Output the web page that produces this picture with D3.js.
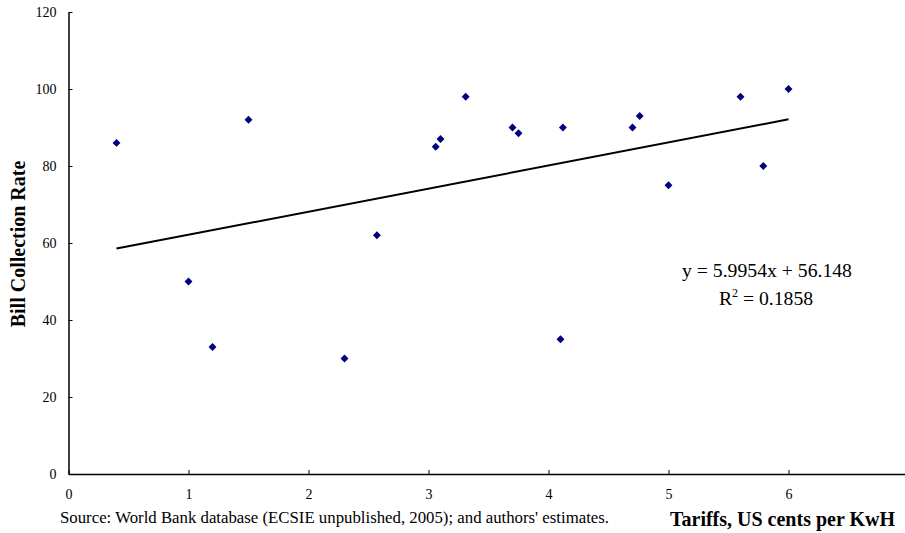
<!DOCTYPE html>
<html>
<head>
<meta charset="utf-8">
<script src="https://cdn.jsdelivr.net/npm/d3@7"></script>
<style>
  body { margin: 0; background: #fff; }
  svg { display: block; font-family: "Liberation Serif", "Times New Roman", serif; }
</style>
</head>
<body>
<svg id="chart" width="905" height="533"></svg>
<script>
// tariff (US cents per kWh) vs bill collection rate (%)
const tariffs = [0.4, 1.0, 1.2, 1.5, 2.3, 2.57, 3.06, 3.1, 3.31, 3.7, 3.75, 4.1, 4.12, 4.7, 4.76, 5.0, 5.6, 5.79, 6.0];
const collection = [86, 50, 33, 92, 30, 62, 85, 87, 98, 90, 88.5, 35, 90, 90, 93, 75, 98, 80, 100];
const xTicks = [0, 1, 2, 3, 4, 5, 6, 7];
const yTicks = [0, 20, 40, 60, 80, 100, 120];
const slope = 5.9954, intercept = 56.148;
const fitRange = [0.4, 6.0];

const width = 905, height = 533;
const svg = d3.select("#chart");

const x = d3.scaleLinear().domain([0, 7]).range([68.5, 908.5]);
const y = d3.scaleLinear().domain([0, 120]).range([474, 12]);

// axes (ticks point inward, like the excel original)
// last x tick (7) sits at the page edge, its label is not visible
const xAxis = svg.append("g")
  .attr("transform", `translate(0,${y(0)})`)
  .call(d3.axisBottom(x).tickValues(xTicks)
    .tickFormat(d => d === 7 ? "" : d3.format("d")(d))
    .tickSizeInner(-4).tickSizeOuter(0).tickPadding(15));
const yAxis = svg.append("g")
  .attr("transform", `translate(${x(0)},0)`)
  .call(d3.axisLeft(y).tickValues(yTicks).tickSizeInner(-4).tickSizeOuter(0).tickPadding(12));

[xAxis, yAxis].forEach(g => {
  g.select(".domain").attr("stroke", "#000").attr("stroke-width", 1.5);
  g.selectAll(".tick line").attr("stroke", "#000");
  g.selectAll(".tick text")
    .attr("font-family", "Liberation Serif, Times New Roman, serif")
    .attr("font-size", 14).attr("fill", "#000");
});

// trend line
svg.append("line")
  .attr("x1", x(fitRange[0])).attr("y1", y(slope * fitRange[0] + intercept))
  .attr("x2", x(fitRange[1])).attr("y2", y(slope * fitRange[1] + intercept))
  .attr("stroke", "#000").attr("stroke-width", 2);

// points
const diamond = d3.symbol().type(d3.symbolDiamond2).size(40);
svg.append("g").selectAll("path")
  .data(tariffs.map((t, i) => [t, collection[i]]))
  .join("path")
  .attr("d", diamond)
  .attr("transform", d => `translate(${x(d[0])},${y(d[1])})`)
  .attr("fill", "#000080");

// regression label
const eq = svg.append("g").attr("font-size", 19.7).attr("text-anchor", "middle");
eq.append("text").attr("x", 767).attr("y", 277).text("y = 5.9954x + 56.148");
const r2 = eq.append("text").attr("x", 766).attr("y", 305);
r2.append("tspan").text("R");
r2.append("tspan").attr("font-size", 12).attr("dy", -8).text("2");
r2.append("tspan").attr("dy", 8).text(" = 0.1858");

// axis titles
svg.append("text")
  .attr("transform", `translate(25,${244}) rotate(-90)`)
  .attr("text-anchor", "middle")
  .attr("font-size", 20).attr("font-weight", "bold")
  .text("Bill Collection Rate");

svg.append("text")
  .attr("x", 895).attr("y", 526)
  .attr("text-anchor", "end")
  .attr("font-size", 20).attr("font-weight", "bold")
  .text("Tariffs, US cents per KwH");

svg.append("text")
  .attr("x", 60).attr("y", 523)
  .attr("font-size", 16.8)
  .text("Source: World Bank database (ECSIE unpublished, 2005); and authors' estimates.");
</script>
</body>
</html>
